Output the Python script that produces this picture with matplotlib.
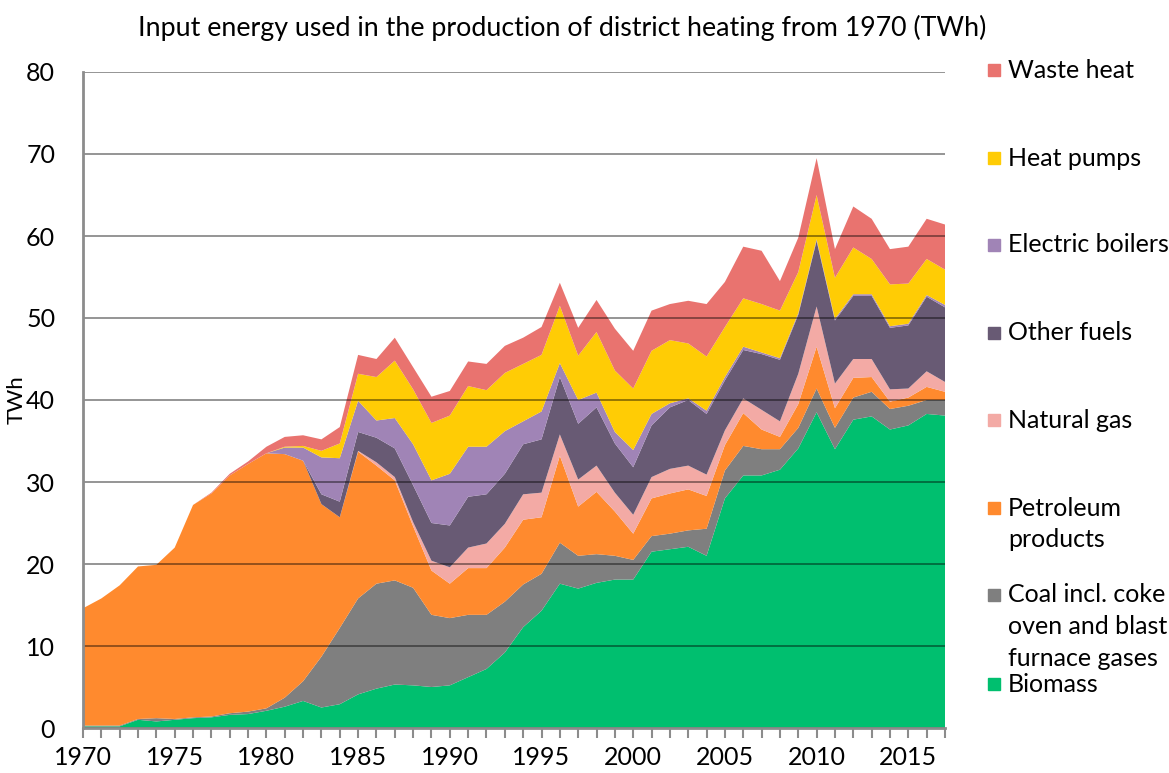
import numpy as np
import matplotlib.pyplot as plt
from matplotlib.patches import Rectangle

# --------------------------------------------------
# Data (TWh)
# --------------------------------------------------
years = np.arange(1970, 2018)

biomass = [0.2, 0.2, 0.2, 1.0, 0.8, 1.0, 1.2, 1.3, 1.6, 1.7,
           2.1, 2.6, 3.3, 2.5, 2.9, 4.1, 4.8, 5.3, 5.2, 5.0,
           5.2, 6.2, 7.2, 9.2, 12.3, 14.3, 17.6, 17.0, 17.7, 18.1,
           18.1, 21.5, 21.8, 22.1, 21.0, 28.0, 30.8, 30.8, 31.5, 34.1,
           38.5, 34.0, 37.6, 38.0, 36.4, 36.9, 38.3, 38.1]
coal = [0.1, 0.1, 0.1, 0.1, 0.4, 0.1, 0.1, 0.1, 0.2, 0.3,
        0.3, 1.1, 2.4, 6.2, 9.3, 11.7, 12.8, 12.7, 11.9, 8.8,
        8.2, 7.6, 6.6, 6.2, 5.2, 4.5, 5.0, 4.0, 3.5, 2.9,
        2.4, 1.9, 1.9, 2.0, 3.3, 3.4, 3.6, 3.2, 2.5, 2.5,
        2.9, 2.6, 2.7, 3.0, 2.5, 2.4, 1.7, 1.9]
petroleum = [14.3, 15.5, 17.1, 18.6, 18.7, 20.9, 25.9, 27.2, 29.0, 30.2,
             31.1, 29.7, 26.9, 18.6, 13.5, 17.9, 14.4, 12.2, 7.5, 5.4,
             4.2, 5.7, 5.7, 6.6, 7.9, 6.9, 10.6, 6.0, 7.6, 5.4,
             3.2, 4.6, 4.9, 5.0, 4.0, 3.1, 4.0, 2.4, 1.5, 2.9,
             5.1, 2.4, 2.4, 1.8, 0.9, 1.0, 1.6, 1.0]
natural_gas = [0, 0, 0, 0, 0, 0, 0, 0, 0, 0,
               0, 0, 0, 0, 0, 0.1, 0.4, 0.4, 0.5, 1.2,
               2.0, 2.5, 3.0, 2.9, 3.1, 3.0, 2.6, 3.3, 3.2, 2.3,
               2.3, 2.6, 3.0, 2.9, 2.6, 1.8, 1.8, 2.4, 1.9, 3.7,
               4.9, 3.0, 2.3, 2.2, 1.5, 1.1, 1.9, 1.2]
other_fuels = [0, 0, 0, 0, 0, 0, 0, 0, 0, 0,
               0, 0, 0, 1.2, 1.9, 2.3, 3.0, 3.5, 4.5, 4.6,
               5.1, 6.2, 6.0, 6.1, 6.1, 6.5, 7.0, 6.8, 7.1, 6.0,
               5.8, 6.3, 7.5, 8.0, 7.4, 6.1, 5.9, 6.8, 7.5, 7.2,
               8.0, 7.7, 7.7, 7.7, 7.5, 7.7, 9.1, 9.1]
electric_boilers = [0, 0, 0, 0, 0, 0, 0, 0, 0, 0,
                    0, 0.8, 1.6, 4.5, 5.3, 3.8, 2.1, 3.7, 5.0, 5.2,
                    6.3, 6.1, 5.8, 5.2, 2.8, 3.4, 1.7, 2.9, 1.8, 1.4,
                    2.1, 1.4, 0.5, 0.2, 0.4, 0.4, 0.4, 0.2, 0.2, 0.2,
                    0.2, 0.2, 0.2, 0.2, 0.2, 0.2, 0.2, 0.3]
heat_pumps = [0, 0, 0, 0, 0, 0, 0, 0, 0, 0,
              0, 0.1, 0.2, 0.8, 1.8, 3.3, 5.3, 7.0, 6.7, 7.0,
              7.1, 7.4, 6.9, 7.1, 7.0, 6.9, 7.0, 5.4, 7.4, 7.5,
              7.5, 7.7, 7.7, 6.7, 6.6, 6.1, 5.9, 5.9, 5.8, 5.0,
              5.4, 5.0, 5.7, 4.3, 5.1, 4.9, 4.4, 4.3]
waste_heat = [0, 0, 0, 0, 0, 0, 0, 0.1, 0.2, 0.3,
              0.8, 1.2, 1.3, 1.4, 2.0, 2.3, 2.2, 2.8, 2.7, 3.2,
              3.0, 3.0, 3.2, 3.3, 3.2, 3.4, 2.8, 3.4, 3.9, 5.1,
              4.6, 4.9, 4.4, 5.2, 6.4, 5.5, 6.3, 6.5, 3.6, 4.2,
              4.5, 3.5, 5.0, 4.9, 4.3, 4.5, 4.9, 5.5]

series = [biomass, coal, petroleum, natural_gas, other_fuels,
          electric_boilers, heat_pumps, waste_heat]
labels = ["Biomass", "Coal incl. coke\noven and blast\nfurnace gases",
          "Petroleum\nproducts", "Natural gas", "Other fuels",
          "Electric boilers", "Heat pumps", "Waste heat"]
colors = ["#00BF6F", "#7F7F7F", "#FF8A2E", "#F3AAA5", "#685A74",
          "#A084B6", "#FFCC05", "#E9736F"]

plt.rcParams["font.family"] = ["Lato", "DejaVu Sans"]

# --------------------------------------------------
# Plot
# --------------------------------------------------
W, H = 1169, 773
fig = plt.figure(figsize=(W / 100, H / 100), dpi=100)
ax = fig.add_axes([83 / W, 1 - 728 / H, (945 - 83) / W, (728 - 72) / H])

ax.stackplot(years, *series, colors=colors, linewidth=0, zorder=1)

ax.set_xlim(1970, 2017)
ax.set_ylim(0, 80)
ax.set_yticks(np.arange(0, 81, 10))
ax.set_xticks(np.arange(1970, 2017, 5))
ax.set_xticks(years, minor=True)

ax.grid(axis="y", color="black", alpha=0.45, linewidth=1.3, zorder=3)
ax.set_axisbelow(False)

for s in ["top", "right"]:
    ax.spines[s].set_visible(False)
for s in ["left", "bottom"]:
    ax.spines[s].set_color("#8c8c8c")
    ax.spines[s].set_linewidth(2)
    ax.spines[s].set_zorder(4)

ax.tick_params(axis="y", length=0, pad=20, labelsize=18)
ax.tick_params(axis="x", which="both", direction="out", length=7,
               width=1.5, color="#8c8c8c", labelsize=18, pad=6)

ax.set_ylabel("TWh", fontsize=16)
ax.yaxis.set_label_coords(-0.065, 0.5)

fig.text(562 / W, 1 - 28 / H,
         "Input energy used in the production of district heating from 1970 (TWh)",
         ha="center", va="center", fontsize=19.3)

# legend drawn by hand to keep Excel-like spacing
legend_y = [684, 595, 508, 420, 333, 245, 158, 70]
for lab, col, y in zip(labels, colors, legend_y):
    fig.patches.append(Rectangle((988 / W, 1 - (y + 6) / H), 12 / W, 12 / H,
                                 transform=fig.transFigure, color=col))
    for i, line in enumerate(lab.split("\n")):
        fig.text(1008 / W, 1 - (y + i * 31.5) / H, line,
                 ha="left", va="center", fontsize=18)

fig.savefig("out.png", dpi=100)
